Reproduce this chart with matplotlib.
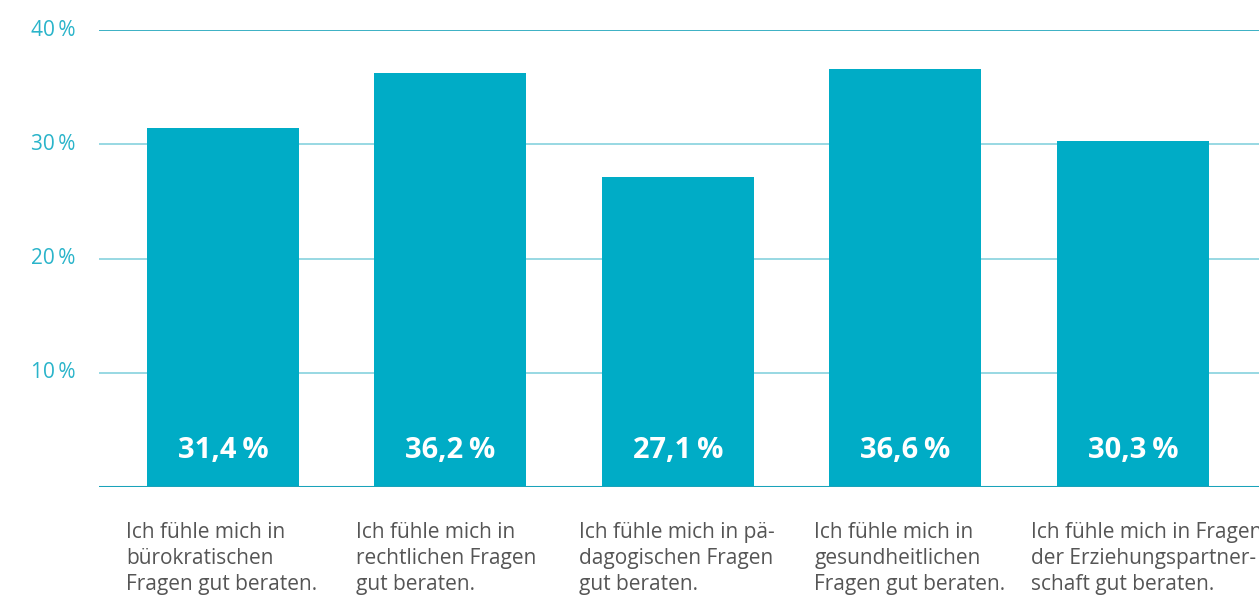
import matplotlib

matplotlib.use("Agg")
import matplotlib.pyplot as plt
import numpy as np

categories = [
    "Ich fühle mich in\nbürokratischen\nFragen gut beraten.",
    "Ich fühle mich in\nrechtlichen Fragen\ngut beraten.",
    "Ich fühle mich in pä-\ndagogischen Fragen\ngut beraten.",
    "Ich fühle mich in\ngesundheitlichen\nFragen gut beraten.",
    "Ich fühle mich in Fragen\nder Erziehungspartner-\nschaft gut beraten.",
]
values = [31.4, 36.2, 27.1, 36.6, 30.3]
value_labels = ["31,4\u2009%", "36,2\u2009%", "27,1\u2009%", "36,6\u2009%", "30,3\u2009%"]
y_ticks = [10, 20, 30, 40]
y_tick_labels = ["10\u2009%", "20\u2009%", "30\u2009%", "40\u2009%"]

# left edge of each category text, relative to bar centre (data units)
label_shift = [-0.427, -0.414, -0.436, -0.400, -0.448]

BAR = "#00acc6"
LINE = "#1aa3ba"
GRID = "#86d2de"
TICK = "#2ab4ca"
TEXT = "#555555"

plt.rcParams["font.family"] = ["Open Sans", "DejaVu Sans"]

fig = plt.figure(figsize=(12.59, 5.96), dpi=100)
ax = fig.add_axes([99 / 1259, (596 - 487) / 596, 1 - 99 / 1259, (487 - 30) / 596])

x = np.arange(len(values))
ax.set_xlim(-0.545, 4.554)
ax.set_ylim(0, 40)

for t in y_ticks:
    ax.axhline(t, color=LINE if t == 40 else GRID, lw=1.2, zorder=1)
ax.axhline(0, color=LINE, lw=2.2, zorder=3)

ax.bar(x, values, width=0.668, color=BAR, zorder=2)

for xi, lab in zip(x, value_labels):
    ax.text(xi, 3.2, lab, ha="center", va="center", color="white",
            fontsize=21, fontweight="bold", zorder=4)

for xi, dx, cat in zip(x, label_shift, categories):
    ax.text(xi + dx, -3.1, cat, ha="left", va="top", color=TEXT,
            fontsize=15, linespacing=1.3, clip_on=False)

for t, lab in zip(y_ticks, y_tick_labels):
    ax.text(-0.545 - 24 / 227.5, t, lab, ha="right", va="center", color=TICK,
            fontsize=15, clip_on=False)

ax.set_xticks([])
ax.set_yticks([])
for s in ax.spines.values():
    s.set_visible(False)

fig.savefig("out.png", dpi=100)
